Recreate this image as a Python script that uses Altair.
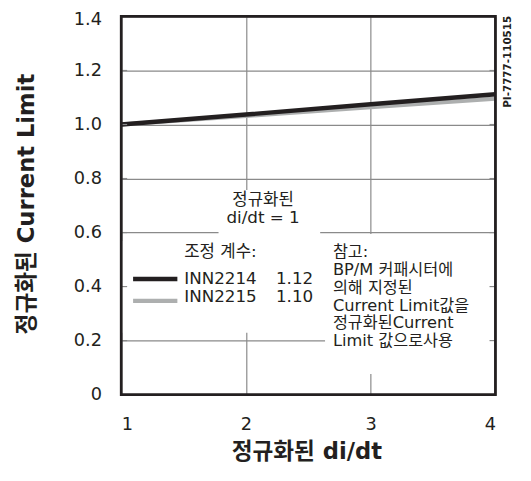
import altair as alt
import pandas as pd

# ---------------- data ----------------
di_dt = [1, 2, 3, 4]
inn2214 = [1.0, 1.037, 1.075, 1.112]
inn2215 = [1.0, 1.032, 1.064, 1.096]
series_names = ["INN2214", "INN2215"]
factors = ["1.12", "1.10"]
x_ticks = [1, 2, 3, 4]
y_ticks = [0, 0.2, 0.4, 0.6, 0.8, 1.0, 1.2, 1.4]
inner_ticks = [0.2, 0.4, 0.6, 0.8, 1.0, 1.2]
title_lines = ["정규화된", "di/dt = 1"]
legend_title = "조정 계수:"
note_lines = ["참고:", "BP/M 커패시터에", "의해 지정된", "Current Limit값을",
              "정규화된Current", "Limit 값으로사용"]
doc_id = "PI-7777-110515"

# ---------------- styling ----------------
W, H = 380, 384
FONT = "DejaVu Sans, Noto Sans CJK KR"
INK = "#231f20"
GRAY = "#adafaf"
GRID = "#8a8a8a"

df = pd.DataFrame({
    "x": di_dt * 2,
    "y": inn2214 + inn2215,
    "series": [series_names[0]] * 4 + [series_names[1]] * 4,
})

x_enc = alt.X("x:Q", scale=alt.Scale(domain=[1, 4], nice=False, zero=False),
              axis=alt.Axis(values=x_ticks, format="d", title="정규화된 di/dt",
                            grid=True, gridColor=GRID, gridWidth=1.2,
                            ticks=False, tickSize=0, domain=False,
                            labelPadding=21, labelFontSize=18, labelColor=INK,
                            labelFont=FONT, titleFont=FONT,
                            titleFontSize=23, titleFontWeight="bold", titleColor=INK,
                            titleX=188, titleY=58, titleAlign="center",
                            titleBaseline="middle", zindex=0))
y_enc = alt.Y("y:Q", scale=alt.Scale(domain=[0, 1.4], nice=False, zero=False),
              axis=alt.Axis(values=y_ticks,
                            labelExpr="datum.value == 0 ? '0' : format(datum.value, '.1f')",
                            labelOffset={"condition": {"test": "datum.value >= 1.35", "value": 3},
                                         "value": 0},
                            title="정규화된 Current Limit",
                            grid=True, gridColor=GRID, gridWidth=1.2,
                            ticks=False, tickSize=0, domain=False,
                            labelPadding=20, labelFontSize=18, labelColor=INK,
                            labelFont=FONT, titleFont=FONT,
                            titleFontSize=23, titleFontWeight="bold", titleColor=INK,
                            titleX=-96, titleY=190, titleAngle=270,
                            titleAlign="center", titleBaseline="middle", zindex=0))
color_enc = alt.Color("series:N", scale=alt.Scale(domain=series_names, range=[INK, GRAY]),
                      legend=None)

# white backgrounds behind annotations (data coordinates)
boxes = pd.DataFrame({
    "x": [1.78, 1.0, 2.634],
    "x2": [2.595, 2.64, 4.0],
    "y": [0.758, 0.569, 0.595],
    "y2": [0.569, 0.229, 0.076],
})
box_layer = alt.Chart(boxes).mark_rect(fill="white", strokeWidth=0).encode(
    x=x_enc, x2="x2:Q", y=y_enc, y2="y2:Q")

gray_line = alt.Chart(df).transform_filter(alt.datum.series == series_names[1]).mark_line(
    strokeWidth=4.2).encode(x=x_enc, y=y_enc, color=color_enc)
black_line = alt.Chart(df).transform_filter(alt.datum.series == series_names[0]).mark_line(
    strokeWidth=4.5).encode(x=x_enc, y=y_enc, color=color_enc)

# annotation: normalized di/dt = 1
t_title = pd.DataFrame({"x": [2.137, 2.137], "y": [0.722, 0.653], "t": title_lines})
title_layer = alt.Chart(t_title).mark_text(font=FONT, fontSize=17, color=INK,
                                           align="center", baseline="middle").encode(
    x=x_enc, y=y_enc, text="t:N")

# legend
t_leg_title = pd.DataFrame({"x": [1.505], "y": [0.526], "t": [legend_title]})
leg_title_layer = alt.Chart(t_leg_title).mark_text(font=FONT, fontSize=17, color=INK,
                                                   align="left", baseline="middle").encode(
    x=x_enc, y=y_enc, text="t:N")
leg_lines = pd.DataFrame({"x": [1.095, 1.095], "x2": [1.45, 1.45], "y": [0.428, 0.347],
                          "series": series_names})
leg_line_layer = alt.Chart(leg_lines).mark_rule(strokeWidth=4.5).encode(
    x=x_enc, x2="x2:Q", y=y_enc, color=color_enc)
leg_names = pd.DataFrame({"x": [1.505, 1.505], "y": [0.428, 0.36], "t": series_names})
leg_names_layer = alt.Chart(leg_names).mark_text(font=FONT, fontSize=17, color=INK,
                                                 align="left", baseline="middle").encode(
    x=x_enc, y=y_enc, text="t:N")
leg_fac = pd.DataFrame({"x": [2.539, 2.539], "y": [0.428, 0.36], "t": factors})
leg_fac_layer = alt.Chart(leg_fac).mark_text(font=FONT, fontSize=17, color=INK,
                                             align="right", baseline="middle").encode(
    x=x_enc, y=y_enc, text="t:N")

# note
note_df = pd.DataFrame({"x": [2.697] * 6,
                        "y": [0.526, 0.461, 0.395, 0.329, 0.263, 0.197],
                        "t": note_lines})
note_layer = alt.Chart(note_df).mark_text(font=FONT, fontSize=16.5, color=INK,
                                          align="left", baseline="middle").encode(
    x=x_enc, y=y_enc, text="t:N")

# inside ticks on left and right borders
tick_df = pd.DataFrame({"y": inner_ticks})
left_ticks = alt.Chart(tick_df).mark_rule(color=GRID, strokeWidth=1.2).encode(
    y=y_enc, x=alt.value(0), x2=alt.value(6))
right_ticks = alt.Chart(tick_df).mark_rule(color=GRID, strokeWidth=1.2).encode(
    y=y_enc, x=alt.value(W - 6), x2=alt.value(W))

# frame
frame = alt.Chart(pd.DataFrame({"k": [0]})).mark_rect(
    fillOpacity=0, stroke=INK, strokeWidth=2.8).encode(
    x=alt.value(0), x2=alt.value(W), y=alt.value(0), y2=alt.value(H))

# document id
pi = alt.Chart(pd.DataFrame({"t": [doc_id]})).mark_text(
    font="DejaVu Sans", fontSize=10.5, fontWeight="bold", color=INK, angle=270,
    align="center", baseline="middle").encode(
    x=alt.value(W + 13), y=alt.value(46), text="t:N")

chart = alt.layer(
    box_layer, gray_line, black_line, title_layer, leg_title_layer, leg_line_layer,
    leg_names_layer, leg_fac_layer, note_layer, left_ticks, right_ticks, frame, pi
).properties(
    width=W, height=H,
    autosize=alt.AutoSizeParams(type="none"),
    padding={"left": 115, "top": 5, "right": 28, "bottom": 76},
).configure_view(stroke=None)

chart.save("out.html", embed_options={"renderer": "svg", "actions": False})
